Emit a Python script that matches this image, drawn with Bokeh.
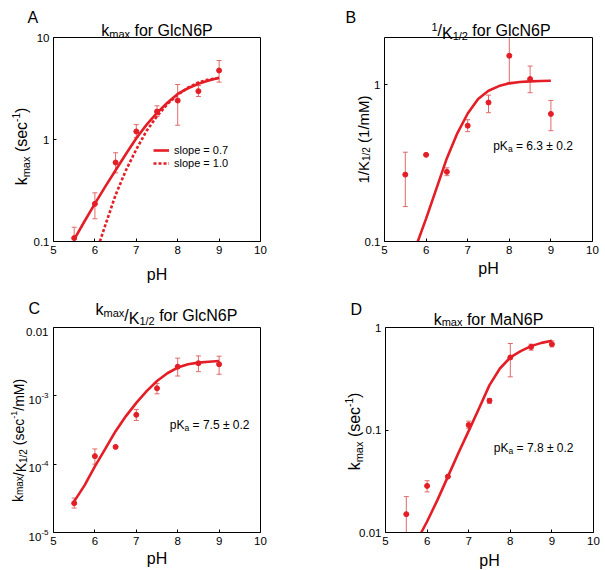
import math
from bokeh.plotting import figure
from bokeh.models import (Range1d, FixedTicker, CustomJSTickFormatter, Label,
                          Legend, LegendItem, LinearAxis, LogAxis)
from bokeh.layouts import column, row
from bokeh.embed import file_html
from bokeh.resources import INLINE

# ---------------- data ----------------
PH = [5.5, 6.0, 6.5, 7.0, 7.5, 8.0, 8.5, 9.0]
X_TICKS = [5, 6, 7, 8, 9, 10]
X_LIM = (5, 10)

# A: kmax for GlcN6P (sec^-1)
A_val = [0.108, 0.234, 0.595, 1.20, 1.88, 2.41, 2.98, 4.75]
A_hi = [0.138, 0.300, 0.741, 1.40, 2.14, 3.46, 3.38, 5.95]
A_lo = [0.080, 0.167, 0.471, 1.05, 1.68, 1.38, 2.64, 3.65]
A_fit07_x = [5.5, 5.75, 6.0, 6.25, 6.5, 6.75, 7.0, 7.25, 7.5, 7.75, 8.0, 8.25, 8.5, 8.75, 9.0]
A_fit07 = [0.105, 0.158, 0.235, 0.345, 0.50, 0.72, 1.03, 1.40, 1.82, 2.29, 2.80, 3.18, 3.52, 3.78, 4.03]
A_fit10_x = [6.12, 6.25, 6.5, 6.75, 7.0, 7.25, 7.5, 7.75, 8.0, 8.25, 8.5, 8.75, 9.0]
A_fit10 = [0.10, 0.144, 0.286, 0.50, 0.80, 1.22, 1.69, 2.22, 2.75, 3.22, 3.62, 3.88, 4.02]
A_ylim = (0.1, 10)
A_yticks = [0.1, 1, 10]

# B: 1/K1/2 for GlcN6P (1/mM)
B_val = [0.267, 0.357, 0.278, 0.548, 0.770, 1.53, 1.087, 0.651]
B_hi = [0.371, 0.357, 0.295, 0.598, 0.858, 2.30, 1.315, 0.794]
B_lo = [0.167, 0.357, 0.263, 0.502, 0.663, 1.034, 0.889, 0.509]
B_fit_x = [5.8, 6.0, 6.25, 6.5, 6.75, 7.0, 7.25, 7.5, 7.75, 8.0, 8.25, 8.5, 8.75, 9.0]
B_fit = [0.10, 0.14, 0.218, 0.34, 0.49, 0.655, 0.81, 0.915, 0.98, 1.02, 1.04, 1.05, 1.055, 1.06]
B_ylim = (0.1, 2.0)
B_yticks = [0.1, 1]

# C: kmax/K1/2 for GlcN6P (sec^-1/mM)
C_val = [2.69e-5, 1.31e-4, 1.79e-4, 5.27e-4, 1.29e-3, 2.67e-3, 3.0e-3, 2.9e-3]
C_hi = [3.19e-5, 1.67e-4, 1.79e-4, 6.33e-4, 1.51e-3, 3.56e-3, 3.84e-3, 3.8e-3]
C_lo = [2.28e-5, 1.0e-4, 1.79e-4, 4.36e-4, 1.07e-3, 1.95e-3, 2.26e-3, 2.07e-3]
C_fit_x = [5.5, 5.75, 6.0, 6.25, 6.5, 6.75, 7.0, 7.25, 7.5, 7.75, 8.0, 8.25, 8.5, 8.75, 9.0]
C_fit = [2.85e-5, 4.9e-5, 9.3e-5, 1.67e-4, 3.04e-4, 5.05e-4, 7.9e-4, 1.17e-3, 1.65e-3,
         2.14e-3, 2.59e-3, 2.9e-3, 3.06e-3, 3.16e-3, 3.24e-3]
C_ylim = (1e-5, 1e-2)
C_yticks = [1e-5, 1e-4, 1e-3, 1e-2]
C_ytick_labels = [("10", "-5"), ("10", "-4"), ("10", "-3"), ("0.01", "")]

# D: kmax for MaN6P (sec^-1)
D_val = [0.0151, 0.0285, 0.0351, 0.112, 0.193, 0.510, 0.647, 0.688]
D_hi = [0.0224, 0.032, 0.0351, 0.122, 0.203, 0.698, 0.688, 0.741]
D_lo = [0.008, 0.0249, 0.0351, 0.104, 0.182, 0.330, 0.601, 0.647]
D_fit_x = [5.86, 6.0, 6.25, 6.5, 6.75, 7.0, 7.25, 7.5, 7.75, 8.0, 8.25, 8.5, 8.75, 9.0]
D_fit = [0.010, 0.0128, 0.0208, 0.0351, 0.0593, 0.098, 0.163, 0.274, 0.398, 0.51,
         0.588, 0.658, 0.708, 0.741]
D_ylim = (0.01, 1)
D_yticks = [0.01, 0.1, 1]

# ---------------- styling ----------------
FONT = "Liberation Sans"
RED = "#e41e26"
ERR = "#e06a6a"

AW = {' ': 278, '(': 333, ')': 333, '-': 333, '.': 278, '/': 278, '=': 584, '\u00b1': 584,
      'A': 667, 'B': 667, 'C': 722, 'D': 722, 'G': 778, 'K': 667, 'M': 833, 'N': 722,
      'P': 667, 'H': 722, 'a': 556, 'c': 500, 'e': 556, 'f': 278, 'k': 500, 'l': 222,
      'm': 833, 'o': 556, 'p': 556, 'r': 333, 's': 500, 'x': 500}


def tw(s, size):
    return sum(AW.get(c, 556) for c in s) * size / 1000.0


class Pan:
    """A figure whose frame is the whole panel; the plot box is drawn with
    fixed-location axes so that texts around the box are not clipped."""

    def __init__(self, fig_box, plot_box, ylim, yticks, blank_y=False):
        fx0, fy0, fx1, fy1 = fig_box      # page pixels
        L, T, R, Bt = plot_box            # page pixels of the plot box
        self.L, self.Bt = L, Bt
        self.ymin, self.ymax = ylim
        xs = (X_LIM[1] - X_LIM[0]) / (R - L)
        x_start = X_LIM[0] - (L - fx0) * xs
        x_end = X_LIM[1] + (fx1 - R) * xs
        ly0, ly1 = math.log10(ylim[0]), math.log10(ylim[1])
        ys = (ly1 - ly0) / (Bt - T)
        y_start = 10 ** (ly0 - (fy1 - Bt) * ys)
        y_end = 10 ** (ly1 + (T - fy0) * ys)
        p = figure(width=fx1 - fx0, height=fy1 - fy0,
                   x_range=Range1d(x_start, x_end), y_range=Range1d(y_start, y_end),
                   y_axis_type="log", x_axis_location=None, y_axis_location=None,
                   output_backend="svg", toolbar_location=None,
                   min_border_left=0, min_border_right=0, min_border_top=0,
                   min_border_bottom=0)
        p.grid.visible = False
        p.outline_line_color = None
        p.background_fill_color = "white"
        p.border_fill_color = "white"
        fmt = "return ''" if blank_y else "return tick.toString()"
        xa = LinearAxis(fixed_location=ylim[0], bounds=X_LIM, ticker=FixedTicker(ticks=X_TICKS))
        ya = LogAxis(fixed_location=X_LIM[0], bounds=ylim, ticker=FixedTicker(ticks=yticks),
                     formatter=CustomJSTickFormatter(code=fmt))
        xt = LinearAxis(fixed_location=ylim[1], bounds=X_LIM, ticker=FixedTicker(ticks=[]))
        yr = LogAxis(fixed_location=X_LIM[1], bounds=ylim, ticker=FixedTicker(ticks=[]))
        for ax in (xa, ya, xt, yr):
            ax.major_tick_in = 3
            ax.major_tick_out = 0
            ax.minor_tick_line_color = None
            ax.axis_line_color = "black"
            ax.axis_line_width = 1
            ax.major_tick_line_color = "black"
            ax.major_label_text_font = FONT
            ax.major_label_text_font_size = "11.5px"
            ax.major_label_text_color = "black"
            ax.major_label_standoff = 4
        p.add_layout(xa, "below")
        p.add_layout(xt, "above")
        p.add_layout(ya, "left")
        p.add_layout(yr, "right")
        self.p = p

    def put(self, xo, yo, text, size, angle=0.0, y=None):
        self.p.add_layout(Label(x=X_LIM[0], y=self.ymin if y is None else y,
                                x_units="data", y_units="data",
                                x_offset=xo, y_offset=yo, text=text, text_font=FONT,
                                text_font_size=f"{size}px", text_color="black",
                                text_align="left", text_baseline="alphabetic",
                                angle=angle))

    def rich(self, X, Y, parts, rotate=False, center=False):
        total = sum(tw(t, s) for t, s, _ in parts)
        pos = -total / 2.0 if center else 0.0
        for t, s, sh in parts:
            stripped = t.lstrip(" ")
            lead = tw(t[:len(t) - len(stripped)], s)
            q = pos + lead
            if rotate:
                self.put(X - self.L - sh, self.Bt - Y + q, stripped, s, angle=math.pi / 2)
            else:
                self.put(X - self.L + q, self.Bt - Y + sh, stripped, s)
            pos += tw(t, s)

    def data(self, val, hi, lo, fits):
        p = self.p
        hi_c = [min(h, self.ymax) for h in hi]
        lo_c = [max(v, self.ymin) for v in lo]
        p.segment(x0=PH, y0=lo_c, x1=PH, y1=hi_c, line_color=ERR, line_width=1)
        cx = [x for x, h in zip(PH, hi) if h <= self.ymax]
        cy = [h for h in hi if h <= self.ymax]
        p.scatter(cx, cy, marker="dash", size=5, line_color=ERR, line_width=1)
        cx = [x for x, v in zip(PH, lo) if v >= self.ymin]
        cy = [v for v in lo if v >= self.ymin]
        p.scatter(cx, cy, marker="dash", size=5, line_color=ERR, line_width=1)
        rs = []
        for fx, fy, dash in fits:
            rs.append(p.line(fx, fy, line_color=RED, line_width=2.6, line_dash=dash))
        p.scatter(PH, val, size=5, fill_color=RED, line_color=RED)
        return rs


# ---------------- panel A ----------------
A = Pan((0, 0, 300, 285), (53, 37, 260, 241), A_ylim, A_yticks)
rA = A.data(A_val, A_hi, A_lo, [(A_fit07_x, A_fit07, "solid"), (A_fit10_x, A_fit10, "3 2")])
legA = Legend(items=[LegendItem(label="slope = 0.7", renderers=[rA[0]]),
                     LegendItem(label="slope = 1.0", renderers=[rA[1]])],
              location=(153, 116), border_line_color=None, background_fill_alpha=0,
              padding=0, margin=0, spacing=1, glyph_width=16, glyph_height=12,
              label_height=12, label_standoff=5, label_text_font=FONT,
              label_text_font_size="11px", label_text_color="black")
A.p.add_layout(legA)
A.rich(27, 16.7, [("A", 16, 0)])
A.rich(156.5, 30, [("k", 16, 0), ("max", 11, -3), (" for GlcN6P", 16, 0)], center=True)
A.rich(21, 146, [("k", 16, 0), ("max", 11, -4), (" (sec", 16, 0), ("-1", 10, 6), (")", 16, 0)],
       rotate=True, center=True)
A.rich(156.5, 273.5, [("pH", 16, 0)], center=True)

# ---------------- panel B ----------------
B = Pan((300, 0, 604, 285), (384, 37, 592, 241), B_ylim, B_yticks)
B.data(B_val, B_hi, B_lo, [(B_fit_x, B_fit, "solid")])
B.rich(345, 16.7, [("B", 16, 0)])
B.rich(490.5, 30, [("1", 11, 4), ("/", 16, 0), ("K", 16, -3.3), ("1/2", 11, -5),
                   (" for GlcN6P", 16, 0)], center=True)
B.rich(363, 139, [("1/K", 15, 0), ("1/2", 10, -3), (" (1/mM)", 15, 0)], rotate=True, center=True)
B.rich(488, 268, [("pH", 16, 0)], center=True)
B.rich(492.7, 145, [("pK", 12, 0), ("a", 8.5, -3), (" = 6.3 \u00b1 0.2", 12, 0)])

# ---------------- panel C ----------------
C = Pan((0, 285, 300, 569), (53, 327, 260, 532), C_ylim, C_yticks, blank_y=True)
C.data(C_val, C_hi, C_lo, [(C_fit_x, C_fit, "solid")])
C.rich(28, 308.3, [("C", 16, 0)])
C.rich(95, 315, [("k", 16, 6), ("max", 11, 3), ("/", 16, 0), ("K", 16, -3.3), ("1/2", 11, -5.5),
                 (" for GlcN6P", 16, 0)])
C.rich(18.7, 440, [("k", 14, 1.5), ("max", 10, 0), ("/", 14, 0), ("K", 14, -2), ("1/2", 10, -4.5),
                   (" (sec", 14, 0), ("-1", 9, 5.5), ("/mM)", 14, 0)], rotate=True, center=True)
C.rich(156.5, 557.5, [("pH", 16, 0)], center=True)
C.rich(169.3, 424.3, [("pK", 12, 0), ("a", 8.5, -3), (" = 7.5 \u00b1 0.2", 12, 0)])
for t, (base, sup) in zip(C_yticks, C_ytick_labels):
    wtot = tw(base, 11.5) + tw(sup, 8)
    x0 = -5 - wtot
    C.put(x0, -4, base, 11.5, y=t)
    if sup:
        C.put(x0 + tw(base, 11.5), 0.5, sup, 8, y=t)

# ---------------- panel D ----------------
D = Pan((300, 285, 604, 569), (385, 327, 593, 532), D_ylim, D_yticks)
D.data(D_val, D_hi, D_lo, [(D_fit_x, D_fit, "solid")])
D.rich(350, 309, [("D", 16, 0)])
D.rich(488, 318.5, [("k", 16, 0), ("max", 11, -3), (" for MaN6P", 16, 0)], center=True)
D.rich(354, 431, [("k", 16, 0), ("max", 11, -4), (" (sec", 16, 0), ("-1", 10, 6), (")", 16, 0)],
       rotate=True, center=True)
D.rich(489, 559.5, [("pH", 16, 0)], center=True)
D.rich(493.3, 447.7, [("pK", 12, 0), ("a", 8.5, -3), (" = 7.8 \u00b1 0.2", 12, 0)])

layout = column(row(A.p, B.p), row(C.p, D.p))
open("out.html", "w").write(file_html(layout, INLINE))
